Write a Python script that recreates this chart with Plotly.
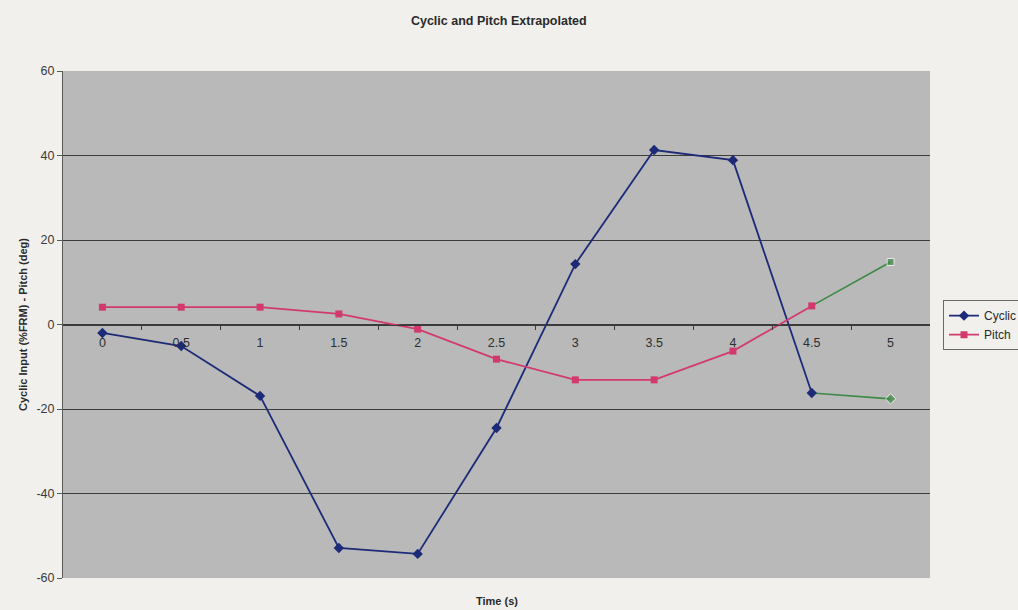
import plotly.graph_objects as go

# Time steps (s) and the two measured series
time_s = [0, 0.5, 1, 1.5, 2, 2.5, 3, 3.5, 4, 4.5]
cyclic = [-2.0, -5.1, -16.9, -52.9, -54.3, -24.5, 14.3, 41.3, 38.9, -16.2]
pitch = [4.1, 4.1, 4.1, 2.5, -1.1, -8.2, -13.1, -13.1, -6.3, 4.4]

# Extrapolated step from the last measured point
extrap_time = [4.5, 5]
cyclic_extrap = [-16.2, -17.6]
pitch_extrap = [4.4, 14.8]

# Category labels along the zero axis
tick_vals = [0, 0.5, 1, 1.5, 2, 2.5, 3, 3.5, 4, 4.5, 5]
tick_text = ["0", "0.5", "1", "1.5", "2", "2.5", "3", "3.5", "4", "4.5", "5"]
y_ticks = [-60, -40, -20, 0, 20, 40, 60]
y_tick_text = ["-60", "-40", "-20", "0", "20", "40", "60"]

NAVY = "#1c2a78"
PINK = "#d23a6e"
GREEN = "#3d8a45"
FONT = "Liberation Sans, Arial, sans-serif"

fig = go.Figure()

# Extrapolated segments (drawn first so measured markers sit on top)
fig.add_trace(go.Scatter(
    x=extrap_time, y=cyclic_extrap, mode="lines+markers", showlegend=False,
    line=dict(color=GREEN, width=1.6),
    marker=dict(symbol="diamond", size=[0, 8], color=GREEN),
    hoverinfo="skip"))
fig.add_trace(go.Scatter(
    x=extrap_time, y=pitch_extrap, mode="lines+markers", showlegend=False,
    line=dict(color=GREEN, width=1.6),
    marker=dict(symbol="square", size=[0, 7], color=GREEN),
    hoverinfo="skip"))

fig.add_trace(go.Scatter(
    x=time_s, y=cyclic, name="Cyclic", mode="lines+markers",
    line=dict(color=NAVY, width=1.8),
    marker=dict(symbol="diamond", size=8, color=NAVY)))
fig.add_trace(go.Scatter(
    x=time_s, y=pitch, name="Pitch", mode="lines+markers",
    line=dict(color=PINK, width=1.8),
    marker=dict(symbol="square", size=7, color=PINK)))

fig.update_layout(
    width=1018, height=610,
    margin=dict(l=63, r=88, t=71, b=32, autoexpand=False),
    paper_bgcolor="#f1f0ec",
    plot_bgcolor="#b9b9b9",
    font=dict(family=FONT, size=12, color="#333333"),
    title=dict(text="<b>Cyclic and Pitch Extrapolated</b>",
               x=0.49, xanchor="center", y=0.967, yanchor="middle",
               font=dict(size=12.5, color="#2a2a2a")),
    xaxis=dict(
        range=[-0.25, 5.25], anchor="free", position=0.5,
        tickmode="array", tickvals=tick_vals, ticktext=tick_text,
        ticks="", showgrid=False, zeroline=False,
        showline=True, linecolor="#3a3a3a", linewidth=1,
        ticklabelstandoff=6,
        tickfont=dict(size=12.5, color="#2e2e2e"),
        minor=dict(tickmode="array",
                   tickvals=[v + 0.25 for v in tick_vals[:-1]],
                   ticks="outside", ticklen=4, tickcolor="#3a3a3a"),
    ),
    yaxis=dict(
        range=[-60, 60], tickmode="array", tickvals=y_ticks,
        ticktext=y_tick_text,
        showgrid=True, gridcolor="#3c3c3c", gridwidth=1,
        zeroline=False, showline=True, linecolor="#5a5a5a", linewidth=1,
        ticks="outside", ticklen=5, tickcolor="#5a5a5a",
        tickfont=dict(size=12.5, color="#3a3a3a"),
        title=dict(text="<b>Cyclic Input (%FRM) - Pitch (deg)</b>",
                   font=dict(size=11, color="#2a2a2a"), standoff=6),
    ),
    legend=dict(
        x=1.015, y=0.548, xanchor="left", yanchor="top",
        bgcolor="#f1f0ec", bordercolor="#6a6a6a", borderwidth=1,
        font=dict(size=12, color="#2a2a2a"),
        tracegroupgap=0, itemwidth=30,
    ),
    showlegend=True,
)

fig.add_annotation(text="<b>Time (s)</b>", x=0.5, xref="paper",
                   y=-0.045, yref="paper", showarrow=False,
                   xanchor="center", yanchor="middle",
                   font=dict(size=11, color="#2a2a2a"))

fig.write_html("out.html")
